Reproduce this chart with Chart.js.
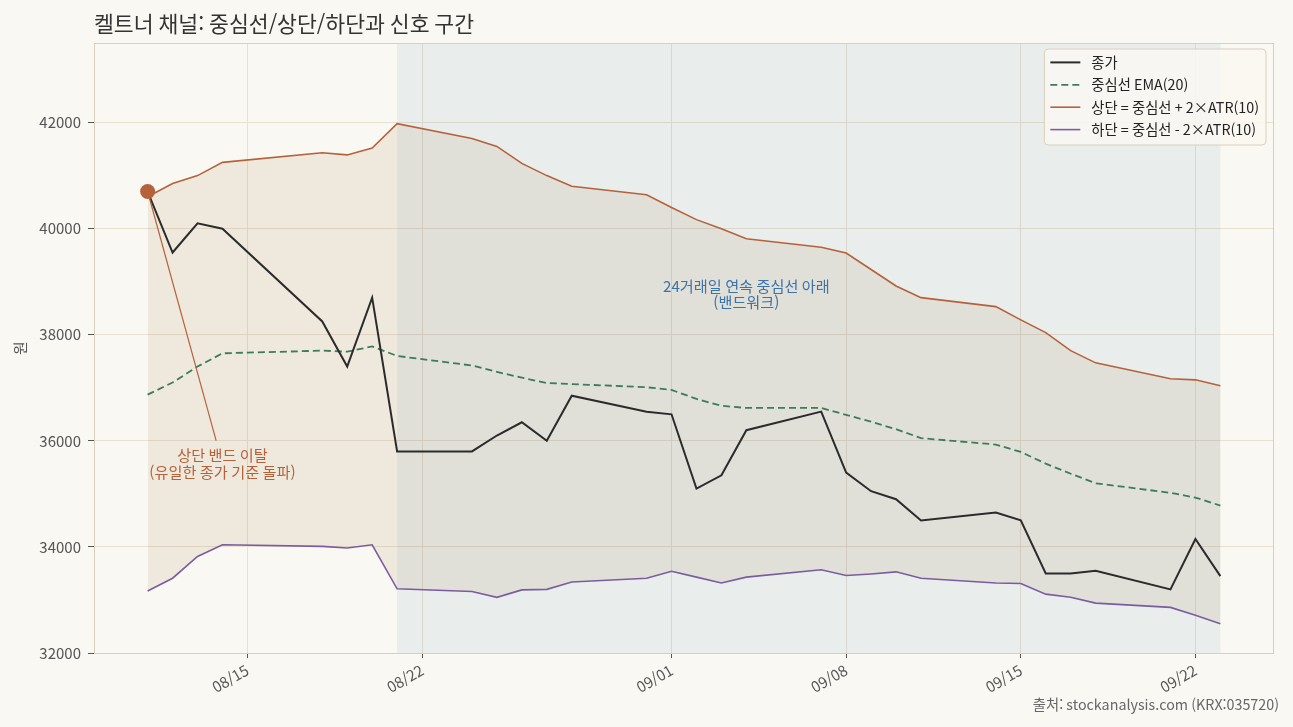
<!DOCTYPE html>
<html lang="ko">
<head>
<meta charset="utf-8">
<title>켈트너 채널</title>
<script src="https://cdn.jsdelivr.net/npm/chart.js@4.4.1/dist/chart.umd.min.js"></script>
<style>
  html, body { margin: 0; padding: 0; background: #faf8f2; }
  #wrap { width: 1293px; height: 727px; position: relative; }
</style>
</head>
<body>
<div id="wrap"><canvas id="keltnerChart"></canvas></div>
<script>
// values
const dates = [
  '2025-08-11', '2025-08-12', '2025-08-13', '2025-08-14', '2025-08-18', '2025-08-19', '2025-08-20', '2025-08-21',
  '2025-08-24', '2025-08-25', '2025-08-26', '2025-08-27', '2025-08-28', '2025-08-31', '2025-09-01', '2025-09-02',
  '2025-09-03', '2025-09-04', '2025-09-07', '2025-09-08', '2025-09-09', '2025-09-10', '2025-09-11', '2025-09-14',
  '2025-09-15', '2025-09-16', '2025-09-17', '2025-09-18', '2025-09-21', '2025-09-22', '2025-09-23'
];
const closePrices = [
  40700, 39550, 40100, 40000, 38250, 37400, 38700, 35800,
  35800, 36100, 36350, 36000, 36850, 36550, 36500, 35100,
  35350, 36200, 36550, 35400, 35050, 34900, 34500, 34650,
  34500, 33500, 33500, 33550, 33200, 34150, 33450
];
const emaCenter = [
  36870, 37100, 37400, 37650, 37700, 37680, 37780, 37600,
  37420, 37300, 37190, 37090, 37070, 37010, 36960, 36790,
  36660, 36620, 36620, 36490, 36360, 36220, 36050, 35930,
  35790, 35570, 35380, 35200, 35020, 34930, 34780
];
const upperBand = [
  40600, 40850, 41000, 41250, 41430, 41390, 41520, 41980,
  41700, 41550, 41230, 41000, 40800, 40640, 40400, 40170,
  40000, 39810, 39650, 39540, 39230, 38920, 38700, 38530,
  38280, 38040, 37700, 37470, 37170, 37150, 37040
];
const lowerBand = [
  33170, 33410, 33820, 34040, 34010, 33980, 34040, 33210,
  33160, 33050, 33190, 33200, 33340, 33410, 33540, 33430,
  33320, 33430, 33570, 33460, 33490, 33530, 33410, 33320,
  33310, 33110, 33050, 32940, 32860, 32710, 32550
];
const xTickDates = ['2025-08-15', '2025-08-22', '2025-09-01', '2025-09-08', '2025-09-15', '2025-09-22'];
const yTicks = [32000, 34000, 36000, 38000, 40000, 42000];
const breakoutDates = ['2025-08-11'];
const bandWalkRange = ['2025-08-21', '2025-09-23'];

const FONT = "'Noto Sans CJK KR', 'Noto Sans', sans-serif";
const DAY_MS = 86400000;
const baseTime = Date.parse(dates[0] + 'T00:00:00Z');

function dayOffset(iso) {
  return (Date.parse(iso + 'T00:00:00Z') - baseTime) / DAY_MS;
}

function fmtDate(iso) {
  return iso.slice(5).replace('-', '/');
}

const xs = dates.map(dayOffset);
const xSpan = xs[xs.length - 1] - xs[0];
const toPoints = (values) => values.map((v, i) => ({ x: xs[i], y: v }));
const breakoutPoints = breakoutDates.map((d) => ({ x: dayOffset(d), y: closePrices[dates.indexOf(d)] }));

Chart.defaults.font.family = FONT;
Chart.defaults.font.size = 15;
Chart.defaults.color = '#555';

function drawLegend(chart) {
  const { ctx, chartArea } = chart;
  const items = chart.data.datasets.filter((ds) => !ds.noLegend);
  ctx.save();
  ctx.font = `14.3px ${FONT}`;
  const textW = Math.max(...items.map((it) => ctx.measureText(it.label).width));
  const pad = 6, sampleW = 30, gap = 11, rowH = 22.4;
  const boxW = pad + sampleW + gap + textW + 7;
  const boxH = 13.4 + rowH * (items.length - 1) + 15.4;
  const boxX = chartArea.right - 8 - boxW;
  const boxY = chartArea.top + 6;

  ctx.beginPath();
  ctx.roundRect(boxX, boxY, boxW, boxH, 4);
  ctx.fillStyle = 'rgba(250, 248, 242, 0.85)';
  ctx.fill();
  ctx.strokeStyle = '#d9cfba';
  ctx.lineWidth = 1;
  ctx.stroke();

  items.forEach((it, i) => {
    const y = boxY + 13.4 + i * rowH;
    ctx.beginPath();
    ctx.strokeStyle = it.borderColor;
    ctx.lineWidth = it.borderWidth;
    ctx.setLineDash(it.borderDash || []);
    ctx.moveTo(boxX + pad, y);
    ctx.lineTo(boxX + pad + sampleW, y);
    ctx.stroke();
    ctx.setLineDash([]);
    ctx.fillStyle = '#222';
    ctx.textAlign = 'left';
    ctx.textBaseline = 'middle';
    ctx.fillText(it.label, boxX + pad + sampleW + gap, y);
  });
  ctx.restore();
}

const keltnerDecor = {
  id: 'keltnerDecor',
  beforeDatasetsDraw(chart) {
    const { ctx, chartArea, scales } = chart;
    const x0 = scales.x.getPixelForValue(dayOffset(bandWalkRange[0]));
    const x1 = scales.x.getPixelForValue(dayOffset(bandWalkRange[1]));
    ctx.save();
    ctx.fillStyle = 'rgba(70, 130, 180, 0.09)';
    ctx.fillRect(x0, chartArea.top, x1 - x0, chartArea.bottom - chartArea.top);
    ctx.restore();
  },
  afterDatasetsDraw(chart) {
    const { ctx, chartArea, scales } = chart;
    ctx.save();

    // breakout note with leader line
    const bp = breakoutPoints[0];
    const px = scales.x.getPixelForValue(bp.x);
    const py = scales.y.getPixelForValue(bp.y);
    const tx = scales.x.getPixelForValue(dayOffset('2025-08-14'));
    const ty = scales.y.getPixelForValue(35570);
    const endY = ty - 23;
    const t = (endY - py) / (ty - py);
    ctx.beginPath();
    ctx.strokeStyle = '#b5623a';
    ctx.lineWidth = 1.2;
    ctx.moveTo(px, py);
    ctx.lineTo(px + (tx - px) * t, endY);
    ctx.stroke();

    ctx.font = `15.2px ${FONT}`;
    ctx.textAlign = 'center';
    ctx.textBaseline = 'middle';
    ctx.fillStyle = '#b5623a';
    ctx.fillText('상단 밴드 이탈', tx, ty - 8.3);
    ctx.fillText('(유일한 종가 기준 돌파)', tx, ty + 8.6);

    // band walk note
    const bx = scales.x.getPixelForValue(dayOffset('2025-09-04'));
    const by = scales.y.getPixelForValue(38770);
    ctx.fillStyle = '#3c73a8';
    ctx.fillText('24거래일 연속 중심선 아래', bx, by - 7.8);
    ctx.fillText('(밴드워크)', bx, by + 8.4);

    // frame
    ctx.strokeStyle = '#dacfb8';
    ctx.lineWidth = 1;
    ctx.strokeRect(chartArea.left + 0.5, chartArea.top + 0.5,
      chartArea.right - chartArea.left - 1, chartArea.bottom - chartArea.top);
    ctx.restore();
  },
  afterDraw(chart) {
    const { ctx, chartArea, width } = chart;
    ctx.save();
    ctx.font = `21.6px ${FONT}`;
    ctx.fillStyle = '#333';
    ctx.textAlign = 'left';
    ctx.textBaseline = 'middle';
    ctx.fillText('켈트너 채널: 중심선/상단/하단과 신호 구간', chartArea.left, 24);

    ctx.font = `14.3px ${FONT}`;
    ctx.fillStyle = '#666';
    ctx.textAlign = 'right';
    ctx.fillText('출처: stockanalysis.com (KRX:035720)', width - 14, 705);
    ctx.restore();

    drawLegend(chart);
  }
};

new Chart(document.getElementById('keltnerChart'), {
  type: 'line',
  data: {
    datasets: [
      {
        label: '종가',
        data: toPoints(closePrices),
        borderColor: '#2b2b2b',
        borderWidth: 2,
        pointRadius: 0,
        fill: false
      },
      {
        label: '중심선 EMA(20)',
        data: toPoints(emaCenter),
        borderColor: '#3a7d5a',
        borderWidth: 1.8,
        borderDash: [7, 4],
        pointRadius: 0,
        fill: false
      },
      {
        label: '상단 = 중심선 + 2×ATR(10)',
        data: toPoints(upperBand),
        borderColor: '#b5623a',
        borderWidth: 1.6,
        pointRadius: 0,
        fill: '+1',
        backgroundColor: 'rgba(140, 97, 40, 0.1)'
      },
      {
        label: '하단 = 중심선 - 2×ATR(10)',
        data: toPoints(lowerBand),
        borderColor: '#7a5ca8',
        borderWidth: 1.6,
        pointRadius: 0,
        fill: false
      },
      {
        label: '상단 밴드 이탈',
        data: breakoutPoints,
        showLine: false,
        pointRadius: 7.5,
        pointBackgroundColor: '#b5623a',
        pointBorderWidth: 0,
        borderColor: '#b5623a',
        order: -1,
        noLegend: true
      }
    ]
  },
  options: {
    responsive: true,
    maintainAspectRatio: false,
    animation: false,
    layout: {
      padding: { top: 43, right: 19, left: 0, bottom: 0 }
    },
    plugins: {
      legend: { display: false },
      title: { display: false },
      tooltip: { enabled: false }
    },
    scales: {
      x: {
        type: 'linear',
        min: xs[0] - xSpan * 0.05,
        max: xs[xs.length - 1] + xSpan * 0.05,
        afterBuildTicks: function(scale) {
          scale.ticks = xTickDates.map((d) => ({ value: dayOffset(d) }));
        },
        afterFit: function(scale) {
          scale.height = 74;
        },
        ticks: {
          autoSkip: false,
          minRotation: 30,
          maxRotation: 30,
          padding: 3,
          color: '#555',
          callback: function(value, index) {
            return fmtDate(xTickDates[index]);
          }
        },
        grid: {
          color: '#e8e0d0',
          tickColor: '#555',
          tickLength: 5
        },
        border: { display: false }
      },
      y: {
        min: 32000,
        max: 43500,
        afterBuildTicks: function(scale) {
          scale.ticks = yTicks.map((v) => ({ value: v }));
        },
        afterFit: function(scale) {
          scale.width = 94;
        },
        ticks: {
          padding: 7,
          color: '#555',
          callback: function(value) {
            return String(value);
          }
        },
        grid: {
          color: '#e8e0d0',
          tickColor: '#555',
          tickLength: 6
        },
        border: { display: false },
        title: {
          display: true,
          text: '원',
          color: '#555',
          padding: { top: 11, bottom: 4 }
        }
      }
    }
  },
  plugins: [keltnerDecor]
});
</script>
</body>
</html>
